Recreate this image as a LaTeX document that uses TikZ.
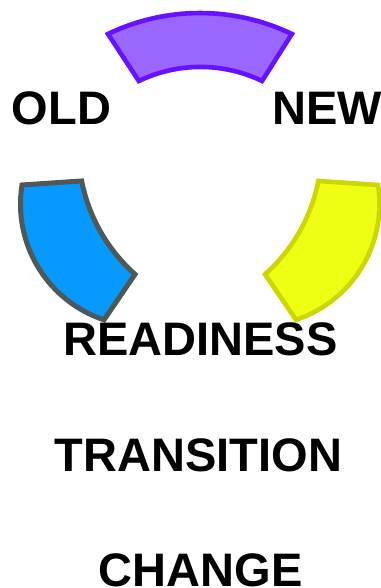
\documentclass[tikz,border=0pt]{standalone}
\usepackage{fontspec}
\setmainfont{Liberation Sans}
\definecolor{purplefill}{HTML}{9966FF}
\definecolor{purpleline}{HTML}{6611FF}
\definecolor{bluefill}{HTML}{0899FF}
\definecolor{blueline}{HTML}{4D5959}
\definecolor{yellowfill}{HTML}{EEFF11}
\definecolor{yellowline}{HTML}{CCD600}
\begin{document}
\begin{tikzpicture}[x=1pt,y=1pt,word_node/.style={inner sep=0pt,anchor=base,font=\fontsize{47}{47}\selectfont\bfseries},purple_seg/.style={fill=purplefill,draw=purpleline,line width=4.6pt,line join=miter},blue_seg/.style={fill=bluefill,draw=blueline,line width=5pt,line join=miter},yellow_seg/.style={fill=yellowfill,draw=yellowline,line width=4.6pt,line join=miter}]
		\useasboundingbox (0,0) rectangle (380,588);

		% ring segments
		\draw[purple_seg] (108,554) arc[start angle=115.7,end angle=64.3,radius=212] -- (262,507) arc[start angle=64.3,end angle=115.7,radius=142] -- cycle;
		\draw[blue_seg] (22,403) arc[start angle=171,end angle=251.6,radius=122] -- (135,313.7) arc[start angle=228.35,end angle=191.16,radius=168.5] -- cycle;
		\draw[yellow_seg] (378,403) arc[start angle=9,end angle=-71.6,radius=122] -- (265,313.7) arc[start angle=-48.35,end angle=-11.16,radius=168.5] -- cycle;

		% words
		\node[word_node] (old) at (61.5,463.5) {OLD};
		\node[word_node] (new) at (327,463.5) {NEW};
		\node[word_node] (readiness) at (200.5,232) {READINESS};
		\node[word_node] (transition) at (198.5,116.3) {TRANSITION};
		\node[word_node] (change) at (200.8,1.3) {CHANGE};
		\end{tikzpicture}
\end{document}
